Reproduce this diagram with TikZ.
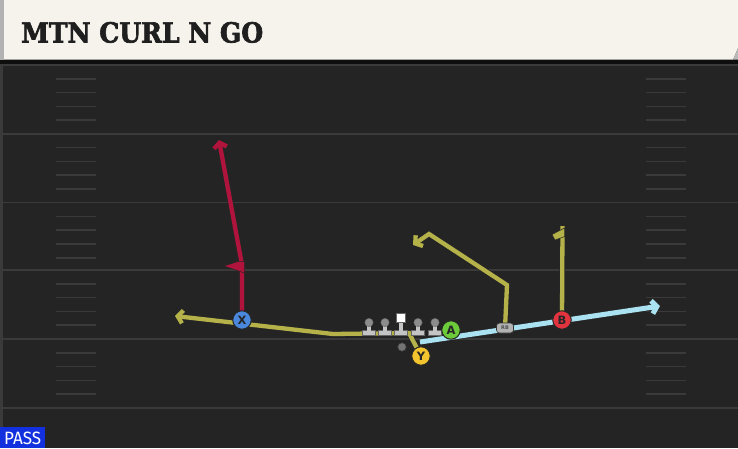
\documentclass[tikz,border=0pt]{standalone}
\usepackage{fontspec}
\setmainfont{DejaVu Serif}
\newfontfamily\titlefont{DejaVu Serif}[UprightFont=* Bold, UprightFeatures={FakeBold=2.5}]
\newfontfamily\labfont{DejaVu Sans}
\newfontfamily\passfont{Fira Sans}
\usetikzlibrary{arrows.meta}
\definecolor{field}{HTML}{242424}
\definecolor{yardline}{HTML}{3A3A3A}
\definecolor{titlebg}{HTML}{F5F3EC}
\definecolor{olive}{HTML}{B5B24A}
\definecolor{crimson}{HTML}{B0143C}
\definecolor{skyblue}{HTML}{ABE2F1}
\definecolor{passblue}{HTML}{1230DE}
\definecolor{xblue}{HTML}{4A88DE}
\definecolor{agreen}{HTML}{6CCB3A}
\definecolor{bred}{HTML}{E2343F}
\definecolor{yyellow}{HTML}{F2C42E}
\definecolor{linebase}{HTML}{C4C4C4}
\definecolor{linehead}{HTML}{8C8C8C}
\tikzset{
  yline/.style={draw=yardline, line width=1.6pt},
  hashmark/.style={draw=yardline, line width=1.6pt},
  route/.style={line width=#1, line join=miter, preaction={draw=black!85, line width=#1+1.5pt}},
  olroute/.style={route=4.3pt, draw=olive},
  rdroute/.style={route=4.3pt, draw=crimson},
  blroute/.style={route=5pt, draw=skyblue},
  tipend/.style={-{Straight Barb[length=5pt,width=13pt]}},
  player/.style={circle, draw=black!85, line width=1pt, minimum size=18.5pt, inner sep=0pt,
    font=\labfont\bfseries\fontsize{11.5}{11.5}\selectfont, text=black!85},
}
\begin{document}
\begin{tikzpicture}[x=1pt,y=-1pt]
\useasboundingbox (0,0) rectangle (738,448);
% field
\fill[field] (0,0) rectangle (738,448);
\fill[yardline] (0,59) rectangle (2.5,448);
% yard lines
\foreach \yy in {65,133.75,202.5,270,339,408} {
  \draw[yline] (0,\yy) -- (738,\yy);
}
% hash marks
\foreach \base in {65,133.75,202.5,270,339} {
  \foreach \k in {1,2,3,4} {
    \draw[hashmark] (56,{\base+13.8*\k}) -- (96,{\base+13.8*\k});
    \draw[hashmark] (646,{\base+13.8*\k}) -- (686,{\base+13.8*\k});
  }
}
% title bar
\fill[black!60!field] (0,59) rectangle (738,63.5);
\fill[titlebg] (0,0) -- (738,0) -- (738,48) -- (733,59.5) -- (0,59.5) -- cycle;
\fill[gray!55] (738,48) -- (733,59.5) -- (738,59.5) -- cycle;
\fill[gray!60] (0,0) rectangle (4,59.5);
\node[anchor=base west, inner sep=0pt, text=black!88] (title) at (21,42.5)
  {\resizebox{242pt}{20.5pt}{\titlefont MTN CURL N GO}};
% pass tag
\fill[passblue] (0,427) rectangle (45,448);
\node[anchor=base west, inner sep=0pt, text=white] (pass) at (4,444.5)
  {\resizebox{37pt}{12.5pt}{\passfont PASS}};

% players (positions)
\coordinate (Xc) at (242,320);
\coordinate (Ac) at (451,330);
\coordinate (Bc) at (562,320);
\coordinate (Yc) at (421,356);
\coordinate (RBc) at (505,328);

% route coordinates
\coordinate (ybend1) at (409,333);
\coordinate (ybend2) at (333,334);
\coordinate (yend) at (175,316);
\coordinate (xbend) at (242,265);
\coordinate (xend) at (219,140);
\coordinate (rbbend1) at (507,285);
\coordinate (rbbend2) at (429,234);
\coordinate (rbend) at (413,245);
\coordinate (bend) at (562.5,226);
\coordinate (astart) at (420,342);
\coordinate (aend) at (660,306);

% routes
\draw[blroute, tipend] (astart) -- (aend);
\draw[rdroute, tipend] (Xc) -- (xbend) -- (xend);
\fill[crimson, draw=black!85, line width=0.5pt] (224,266) -- (238,261.5) -- (244.5,261.5) -- (244.5,273) -- cycle;
\draw[olroute, tipend] (Yc) -- (ybend1) -- (ybend2) -- (yend);
\draw[olroute, tipend] (RBc) -- (rbbend1) -- (rbbend2) -- (rbend);
\draw[olroute] (Bc) -- (bend);
\fill[olive, draw=black!85, line width=0.5pt] (564.7,228) -- (552,234.5) -- (555,240) -- (564.7,236.5) -- cycle;

% linemen
\foreach \x in {369,385,418,435} {
  \fill[linebase, draw=black!60, line width=0.4pt] (\x-6.5,330.5) rectangle (\x+6.5,335.5);
  \fill[linebase] (\x-1.8,324) rectangle (\x+1.8,331);
  \fill[linehead, draw=black!60, line width=0.4pt] (\x,322.5) circle (4.2);
}
\fill[linebase, draw=black!60, line width=0.4pt] (394.5,330.5) rectangle (407.5,335.5);
\fill[linebase] (399.2,321) rectangle (402.8,331);
\fill[white, draw=black!60, line width=0.4pt] (396.5,313.5) rectangle (405.5,322.5);
% QB
\fill[black!55, draw=black!80, line width=0.5pt] (402,347) circle (4.3);

% skill players
\node[player, fill=xblue] (X) at (Xc) {X};
\node[player, fill=agreen] (A) at (Ac) {A};
\node[player, fill=bred] (B) at (Bc) {B};
\node[player, fill=yyellow] (Y) at (Yc) {Y};
\node[draw=black!80, fill=gray!60, rounded corners=3pt, minimum width=17pt, minimum height=10pt,
  inner sep=0pt, line width=0.6pt, font=\labfont\bfseries\fontsize{5}{5}\selectfont, text=black!70] (RB) at (RBc) {RB};
\end{tikzpicture}
\end{document}
